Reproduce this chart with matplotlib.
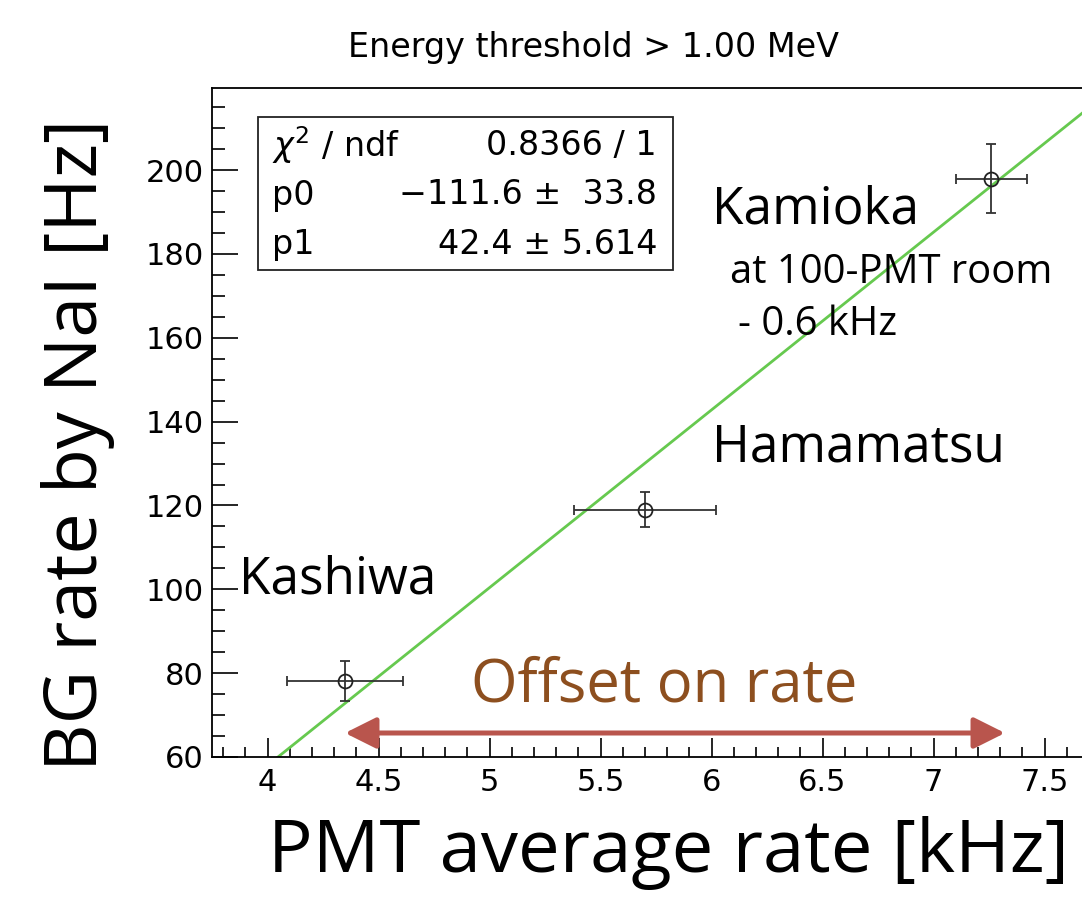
import matplotlib
matplotlib.use("Agg")
import matplotlib.pyplot as plt
import numpy as np
from matplotlib.ticker import MultipleLocator

# Data
sites = ["Kashiwa", "Hamamatsu", "Kamioka"]
pmt_rate = [4.35, 5.70, 7.26]
pmt_rate_err = [0.26, 0.32, 0.16]
bg_rate = [78.2, 119.0, 198.0]
bg_rate_err = [4.8, 4.2, 8.3]
fit_p0 = -111.6
fit_p1 = 42.4

W, H = 1082, 900
fig = plt.figure(figsize=(W / 100, H / 100), dpi=100)
ax = fig.add_axes([212 / W, (H - 757) / H, 0.86, (757 - 88) / H])

xmin = 3.75
xmax = xmin + 0.86 * W / 222.0
ax.set_xlim(xmin, xmax)
ax.set_ylim(60, 219.6)

helv = "DejaVu Sans"
cal = "Open Sans"
plt.rcParams["mathtext.fontset"] = "dejavusans"

# fit line
xs = np.linspace((60 - fit_p0) / fit_p1, xmax, 200)
ax.plot(xs, fit_p0 + fit_p1 * xs, color="#66c94f", lw=2.0, zorder=2)

# data points
ax.errorbar(pmt_rate, bg_rate, xerr=pmt_rate_err, yerr=bg_rate_err,
            fmt="o", mfc="none", mec="#222222", ms=10, mew=1.3,
            ecolor="#333333", elinewidth=1.3, capsize=3.5, capthick=1.3, zorder=3)

# axes styling
ax.spines["right"].set_visible(False)
for s in ["left", "bottom", "top"]:
    ax.spines[s].set_linewidth(1.3)
ax.xaxis.set_major_locator(MultipleLocator(0.5))
ax.xaxis.set_minor_locator(MultipleLocator(0.1))
ax.yaxis.set_major_locator(MultipleLocator(20))
ax.yaxis.set_minor_locator(MultipleLocator(5))
ax.tick_params(axis="x", which="major", direction="in", length=14, width=1.2, pad=8,
               labelsize=22)
ax.tick_params(axis="x", which="minor", direction="in", length=7, width=1.2)
ax.tick_params(axis="y", which="major", direction="in", length=19, width=1.2, pad=6,
               labelsize=22)
ax.tick_params(axis="y", which="minor", direction="in", length=9.5, width=1.2)
ax.tick_params(top=False, right=False, which="both")
for lab in ax.get_xticklabels() + ax.get_yticklabels():
    lab.set_fontfamily(helv)
ax.xaxis.set_major_formatter(plt.FuncFormatter(lambda v, p: f"{v:g}"))
ax.yaxis.set_major_formatter(plt.FuncFormatter(lambda v, p: f"{v:g}"))

# title
fig.text(593 / W, 1 - 47 / H, "Energy threshold > 1.00 MeV", ha="center", va="center",
         fontsize=24, family=helv)

# stats box
bx0, by0, bx1, by1 = 258, 117, 673, 270
box = plt.Rectangle((bx0 / W, 1 - by1 / H), (bx1 - bx0) / W, (by1 - by0) / H,
                    transform=fig.transFigure, fill=True, fc="white", ec="#222222", lw=1.3,
                    zorder=5)
fig.patches.append(box)
rows = [("$\\chi^2$ / ndf", "0.8366 / 1"),
        ("p0", "\u2212111.6 \u00b1  33.8"),
        ("p1", "42.4 \u00b1 5.614")]
ys = [145, 195, 245]
for (l, r), yy in zip(rows, ys):
    fig.text(272 / W, 1 - yy / H, l, ha="left", va="center", fontsize=24, family=helv, zorder=6)
    fig.text(657 / W, 1 - yy / H, r, ha="right", va="center", fontsize=24, family=helv, zorder=6)

# annotations
kw = dict(family=cal, fontweight="medium")
fig.text(712 / W, 1 - 210 / H, "Kamioka", ha="left", va="center", fontsize=37, **kw)
fig.text(730 / W, 1 - 273 / H, "at 100-PMT room", ha="left", va="center", fontsize=28.8, **kw)
fig.text(738 / W, 1 - 325 / H, "- 0.6 kHz", ha="left", va="center", fontsize=28.8, **kw)
fig.text(712 / W, 1 - 448 / H, "Hamamatsu", ha="left", va="center", fontsize=37, **kw)
fig.text(239 / W, 1 - 580 / H, "Kashiwa", ha="left", va="center", fontsize=37, **kw)
fig.text(664 / W, 1 - 686 / H, "Offset on rate", ha="center", va="center", fontsize=43,
         color="#8d4f1f", **kw)

# arrow
fig.patches.append(matplotlib.patches.FancyArrowPatch(
    (345 / W, 1 - 733 / H), (1005 / W, 1 - 733 / H), transform=fig.transFigure,
    arrowstyle="<|-|>,head_length=19,head_width=9.5", color="#b9554d", lw=3.6,
    mutation_scale=1, shrinkA=0, shrinkB=0, zorder=4))

# axis labels
fig.text(78 / W, 1 - 445 / H, "BG rate by NaI [Hz]", ha="center", va="center",
         rotation=90, fontsize=53, **kw)
fig.text(668 / W, 1 - 853 / H, "PMT average rate [kHz]", ha="center", va="center",
         fontsize=53.5, **kw)

fig.savefig("out.png", dpi=100)
